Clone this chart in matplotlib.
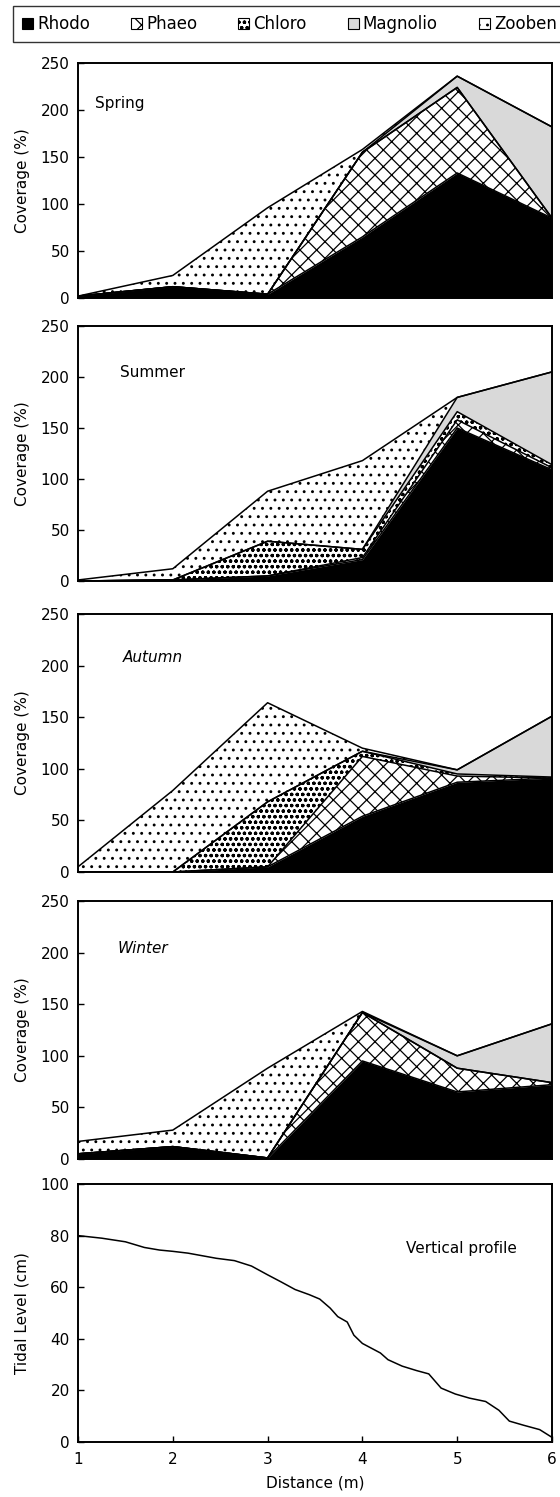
import matplotlib
matplotlib.use('Agg')
import matplotlib.pyplot as plt
import numpy as np
from matplotlib.patches import Patch

plt.rcParams['font.family'] = ['DejaVu Sans']
plt.rcParams['hatch.linewidth'] = 0.9

distance = [1, 2, 3, 4, 5, 6]
groups = ['Rhodo', 'Phaeo', 'Chloro', 'Magnolio', 'Zooben']

# coverage (%) per group
spring_rhodo = [2, 12, 4, 65, 133, 85]
spring_phaeo = [0, 0, 0, 90, 91, 0]
spring_chloro = [0, 0, 0, 0, 0, 0]
spring_magnolio = [0, 0, 0, 0, 12, 97]
spring_zooben = [0, 12, 92, 3, 0, 0]

summer_rhodo = [0, 1, 5, 21, 150, 109]
summer_phaeo = [0, 0, 0, 2, 8, 2]
summer_chloro = [0, 0, 34, 8, 8, 3]
summer_magnolio = [0, 0, 0, 0, 14, 91]
summer_zooben = [1, 11, 49, 87, 0, 0]

autumn_rhodo = [0, 0, 5, 54, 87, 91]
autumn_phaeo = [0, 0, 0, 58, 6, 0]
autumn_chloro = [0, 0, 63, 5, 2, 1]
autumn_magnolio = [0, 0, 0, 0, 4, 59]
autumn_zooben = [5, 79, 96, 3, 0, 0]

winter_rhodo = [5, 12, 1, 95, 65, 72]
winter_phaeo = [0, 0, 0, 47, 23, 2]
winter_chloro = [0, 0, 0, 0, 0, 0]
winter_magnolio = [0, 0, 0, 0, 12, 57]
winter_zooben = [12, 16, 87, 1, 0, 0]

profile_x = [1.0, 1.25, 1.5, 1.7, 1.86, 2.0, 2.16, 2.31, 2.46, 2.65, 2.83, 3.0,
             3.14, 3.29, 3.44, 3.55, 3.66, 3.74, 3.84, 3.91, 4.0, 4.19, 4.27,
             4.42, 4.57, 4.7, 4.83, 4.98, 5.13, 5.3, 5.44, 5.55, 5.7, 5.87, 6.0]
profile_level = [80, 79, 77.6, 75.4, 74.4, 73.9, 73.2, 72.2, 71.2, 70.3, 68.2, 64.8,
                 62.1, 59.1, 57.1, 55.4, 51.9, 48.6, 46.5, 41.4, 38.2, 34.5, 31.9,
                 29.4, 27.7, 26.4, 20.9, 18.6, 17.0, 15.7, 12.3, 8.1, 6.5, 4.8, 1.8]

facecolors = ['black', 'white', 'white', '#d9d9d9', 'white']
hatches = [None, 'xx', 'ooo', None, '..']

seasons = [
    ('Spring', [spring_rhodo, spring_phaeo, spring_chloro, spring_magnolio, spring_zooben], 'normal', (1.18, 207)),
    ('Summer', [summer_rhodo, summer_phaeo, summer_chloro, summer_magnolio, summer_zooben], 'normal', (1.44, 204)),
    ('Autumn', [autumn_rhodo, autumn_phaeo, autumn_chloro, autumn_magnolio, autumn_zooben], 'italic', (1.47, 208)),
    ('Winter', [winter_rhodo, winter_phaeo, winter_chloro, winter_magnolio, winter_zooben], 'italic', (1.42, 204)),
]

W, H = 560, 1497
fig = plt.figure(figsize=(W / 100, H / 100), dpi=100)


def box(top, bottom):
    return [78 / W, 1 - bottom / H, 474 / W, (bottom - top) / H]


panel_px = [(63, 298), (326, 581), (614, 872), (901, 1159)]


def style_axes(ax):
    for sp in ax.spines.values():
        sp.set_linewidth(1.4)
    ax.tick_params(axis='y', direction='in', length=4, width=1, pad=6, labelsize=11)
    ax.set_xlim(1, 6)


for (name, layers, fstyle, pos), (top, bottom) in zip(seasons, panel_px):
    ax = fig.add_axes(box(top, bottom))
    x = np.array(distance)
    base = np.zeros(len(x))
    tops = []
    for vals, fc, h in zip(layers, facecolors, hatches):
        upper = base + np.array(vals)
        ax.fill_between(x, base, upper, facecolor=fc, edgecolor='black',
                        linewidth=0, hatch=h, zorder=2)
        tops.append(upper)
        base = upper
    for upper in tops:
        ax.plot(x, upper, color='black', lw=1.1, zorder=3)
    ax.set_ylim(0, 250)
    ax.set_yticks([0, 50, 100, 150, 200, 250])
    style_axes(ax)
    ax.tick_params(axis='x', bottom=False, labelbottom=False)
    ax.set_ylabel('Coverage (%)', fontsize=11, labelpad=8)
    ax.text(pos[0], pos[1], name, fontsize=11, style=fstyle, va='center', ha='left')

# vertical profile panel
ax = fig.add_axes(box(1184, 1442))
ax.plot(profile_x, profile_level, color='black', lw=1.1)
ax.set_ylim(0, 100)
ax.set_yticks([0, 20, 40, 60, 80, 100])
style_axes(ax)
ax.set_xticks(distance)
ax.tick_params(axis='x', direction='in', length=4, width=1, pad=7, labelsize=11)
ax.set_ylabel('Tidal Level (cm)', fontsize=11, labelpad=8)
ax.set_xlabel('Distance (m)', fontsize=11, labelpad=6)
ax.text(4.46, 75, 'Vertical profile', fontsize=11, va='center', ha='left')

handles = [Patch(facecolor=fc, edgecolor='black', hatch=h, linewidth=0.8)
           for fc, h in zip(facecolors, hatches)]
leg = fig.legend(handles, groups, loc='center',
                 bbox_to_anchor=(13 / W, 1 - 43 / H, 553 / W, 38 / H),
                 mode='expand', ncol=5, frameon=True, fancybox=False,
                 edgecolor='black', handlelength=0.65, handleheight=0.65,
                 handletextpad=0.25, borderaxespad=0, borderpad=0.55, fontsize=12)
leg.get_frame().set_linewidth(1.0)

fig.savefig('out.png', dpi=100)
